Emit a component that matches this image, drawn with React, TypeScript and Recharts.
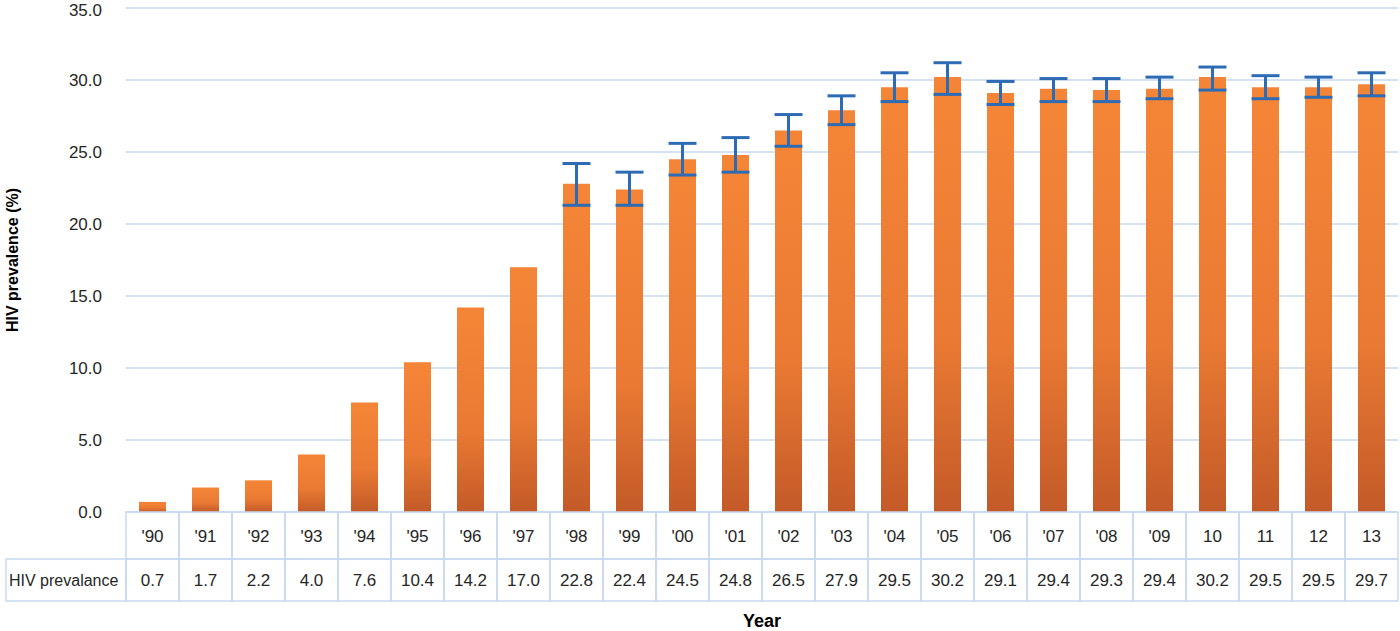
import {Bar, BarChart, CartesianGrid, ErrorBar, XAxis, YAxis} from "recharts";

const years = ["'90", "'91", "'92", "'93", "'94", "'95", "'96", "'97", "'98", "'99", "'00", "'01", "'02", "'03", "'04", "'05", "'06", "'07", "'08", "'09", "10", "11", "12", "13"];
const prevalence = [0.7, 1.7, 2.2, 4.0, 7.6, 10.4, 14.2, 17.0, 22.8, 22.4, 24.5, 24.8, 26.5, 27.9, 29.5, 30.2, 29.1, 29.4, 29.3, 29.4, 30.2, 29.5, 29.5, 29.7];
// confidence bounds (null = no error bar)
const lower = [null, null, null, null, null, null, null, null, 21.3, 21.3, 23.4, 23.6, 25.4, 26.9, 28.5, 29.0, 28.3, 28.5, 28.5, 28.7, 29.3, 28.7, 28.8, 28.9];
const upper = [null, null, null, null, null, null, null, null, 24.2, 23.6, 25.6, 26.0, 27.6, 28.9, 30.5, 31.2, 29.9, 30.1, 30.1, 30.2, 30.9, 30.3, 30.2, 30.5];
const yTicks = [0, 5, 10, 15, 20, 25, 30, 35];

const data = years.map((year, i) => ({
    year,
    value: prevalence[i],
    err: lower[i] == null ? undefined : [prevalence[i] - (lower[i] as number), (upper[i] as number) - prevalence[i]],
}));

const FONT = "'Liberation Sans Narrow', 'Arial Narrow', 'Liberation Sans', sans-serif";
const GRID = "#c6d9f0";
const TEXT = "#262626";
const PLOT_LEFT = 126;
const PLOT_RIGHT = 1398;
const BAND = (PLOT_RIGHT - PLOT_LEFT) / years.length;

function TableTick(props: any) {
    const {x, y, payload, index} = props;
    const left = x - BAND / 2;
    const row1 = 47;
    const row2 = 42;
    return (
        <g>
            <rect x={left} y={y} width={BAND} height={row1} fill="none" stroke={GRID} strokeWidth={1.5}/>
            <rect x={left} y={y + row1} width={BAND} height={row2} fill="none" stroke={GRID} strokeWidth={1.5}/>
            <text x={x} y={y + 30} textAnchor="middle" fontFamily={FONT} fontSize={17} fill={TEXT}>{payload.value}</text>
            <text x={x} y={y + row1 + 27} textAnchor="middle" fontFamily={FONT} fontSize={17} fill={TEXT}>
                {prevalence[index].toFixed(1)}
            </text>
            {index === 0 && (
                <g>
                    <rect x={6} y={y + row1} width={left - 6} height={row2} fill="none" stroke={GRID} strokeWidth={1.5}/>
                    <text x={9} y={y + row1 + 27} fontFamily={FONT} fontSize={16} fill={TEXT}>HIV prevalance</text>
                </g>
            )}
        </g>
    );
}

export default function App() {
    return (
        <div style={{position: "absolute", left: 0, top: 0, background: "#fff"}}>
            <BarChart
                width={1400}
                height={631}
                data={data}
                margin={{top: 8, right: 2, left: 0, bottom: 0}}
                barCategoryGap={0}
            >
                <defs>
                    <linearGradient id="barFill" x1="0" y1="0" x2="0" y2="1">
                        <stop offset="0%" stopColor="#f58536"/>
                        <stop offset="60%" stopColor="#ea7a33"/>
                        <stop offset="100%" stopColor="#c35a28"/>
                    </linearGradient>
                </defs>
                <CartesianGrid vertical={false} stroke={GRID} strokeWidth={1.5}/>
                <XAxis
                    dataKey="year"
                    height={119}
                    axisLine={false}
                    tickLine={false}
                    tickSize={0}
                    tickMargin={0}
                    interval={0}
                    tick={<TableTick/>}
                    label={{value: "Year", position: "insideBottom", offset: 4, fontFamily: FONT, fontSize: 18, fontWeight: "bold", fill: "#000"}}
                />
                <YAxis
                    width={126}
                    domain={[0, 35]}
                    ticks={yTicks}
                    axisLine={false}
                    tickLine={false}
                    tickMargin={18}
                    tickFormatter={(v: number) => v.toFixed(1)}
                    tick={{fontFamily: FONT, fontSize: 17, fill: TEXT}}
                    label={{value: "HIV prevalence (%)", angle: -90, position: "insideLeft", offset: 12, style: {textAnchor: "middle"}, fontFamily: "'Liberation Sans', Arial, sans-serif", fontSize: 16, fontWeight: "bold", fill: "#000"}}
                />
                <Bar dataKey="value" barSize={27} fill="url(#barFill)" isAnimationActive={false}>
                    <ErrorBar dataKey="err" width={14} stroke="#2e6bb5" strokeWidth={3}/>
                </Bar>
            </BarChart>
        </div>
    );
}
